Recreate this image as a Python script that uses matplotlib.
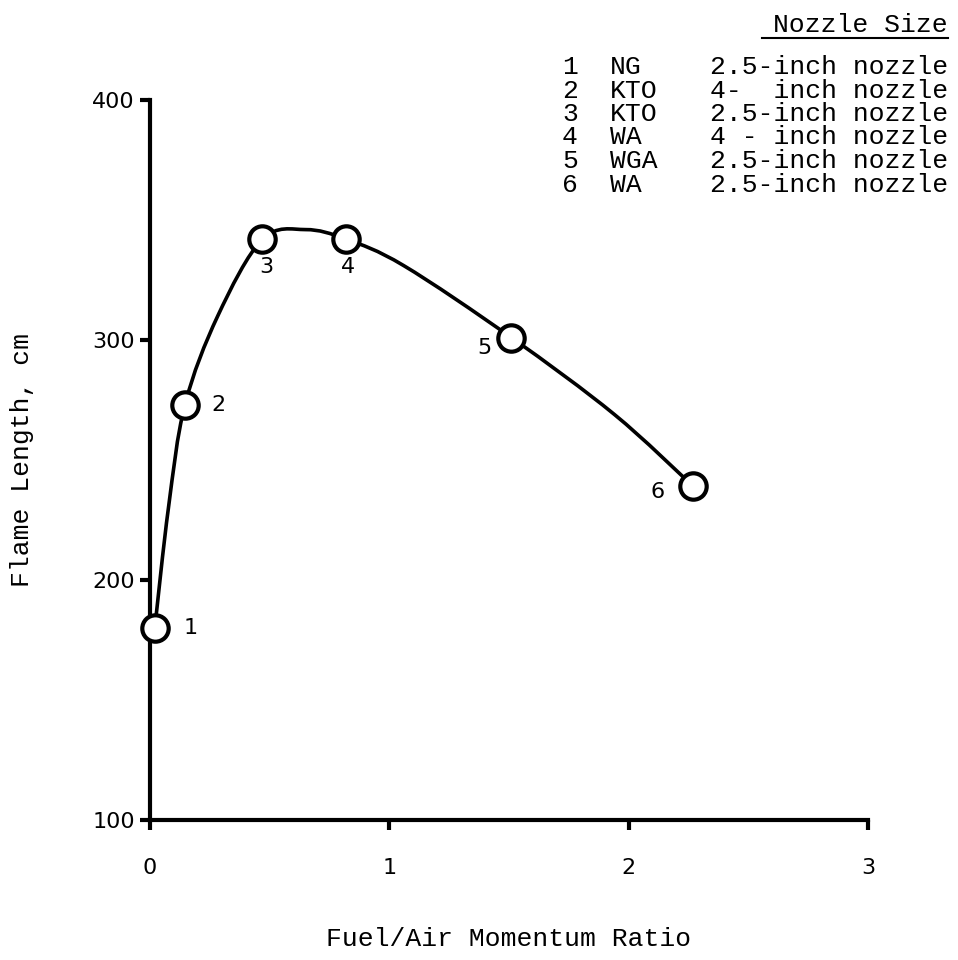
import numpy as np
import matplotlib.pyplot as plt
from matplotlib.path import Path
from matplotlib.patches import PathPatch

# measured points (Fuel/Air momentum ratio, flame length in cm)
point_ids = ["1", "2", "3", "4", "5", "6"]
ratio = [0.02, 0.146, 0.47, 0.82, 1.51, 2.27]
flame_len = [180, 273, 342, 342, 301, 239]

# hand drawn curve through the points
curve_x = [0.02, 0.077, 0.146, 0.283, 0.47, 0.65, 0.82, 1.06, 1.51, 1.94, 2.27]
curve_y = [180, 230, 273, 310, 342, 346, 342, 331, 301, 269, 239]

# key in the top right corner
fuels = ["NG", "KTO", "KTO", "WA", "WGA", "WA"]
nozzles = ["2.5-inch nozzle", "4-  inch nozzle", "2.5-inch nozzle",
           "4 - inch nozzle", "2.5-inch nozzle", "2.5-inch nozzle"]

x_ticks = [0, 1, 2, 3]
y_ticks = [100, 200, 300, 400]

mono = "Liberation Mono"
sans = "DejaVu Sans"

fig = plt.figure(figsize=(9.58, 9.6), dpi=100)
ax = fig.add_axes([150 / 958, 140 / 960, 718 / 958, 720 / 960])
ax.set_xlim(0, 3)
ax.set_ylim(100, 400)

# smooth curve: catmull-rom turned into bezier segments
pts = np.column_stack([curve_x, curve_y]).astype(float)
sx, sy = 239.0, 2.4  # roughly pixels per unit, so tangents look right
P = pts * [sx, sy]
verts = [P[0]]
codes = [Path.MOVETO]
for i in range(len(P) - 1):
    p0 = P[i - 1] if i > 0 else P[i]
    p1, p2 = P[i], P[i + 1]
    p3 = P[i + 2] if i + 2 < len(P) else P[i + 1]
    c1 = p1 + (p2 - p0) / 6
    c2 = p2 - (p3 - p1) / 6
    verts += [c1, c2, p2]
    codes += [Path.CURVE4] * 3
verts = np.array(verts) / [sx, sy]
ax.add_patch(PathPatch(Path(verts, codes), fill=False, lw=2.6,
                       edgecolor="black", capstyle="round", clip_on=False))

ax.plot(ratio, flame_len, "o", ms=19, mfc="white", mec="black", mew=3,
        clip_on=False, zorder=5)

# point numbers
offsets = [(36, 0), (33, 0), (4, -28), (2, -28), (-27, -10), (-36, -6)]
for pid, x, y, (dx, dy) in zip(point_ids, ratio, flame_len, offsets):
    ax.annotate(pid, (x, y), xytext=(dx, dy), textcoords="offset pixels",
                ha="center", va="center", fontsize=16, family=sans,
                annotation_clip=False)

for s in ["top", "right"]:
    ax.spines[s].set_visible(False)
for s in ["left", "bottom"]:
    ax.spines[s].set_linewidth(3)

ax.set_xticks(x_ticks)
ax.set_yticks(y_ticks)
ax.tick_params(direction="out", length=7, width=3, labelsize=16)
ax.tick_params(axis="y", pad=4)
ax.tick_params(axis="x", pad=20)
for lab in ax.get_xticklabels() + ax.get_yticklabels():
    lab.set_family(sans)

ax.set_xlabel("Fuel/Air Momentum Ratio", fontsize=19, family=mono, labelpad=36)
ax.set_ylabel("Flame Length, cm", fontsize=19, family=mono, labelpad=42)

# key
fig.text(948 / 958, 1 - 25 / 960, "Nozzle Size", fontsize=19, family=mono,
         ha="right", va="center")
fig.add_artist(plt.Line2D([762 / 958, 948 / 958], [1 - 38 / 960, 1 - 38 / 960],
                          color="black", lw=1.5))
for i, (pid, fu, nz) in enumerate(zip(point_ids, fuels, nozzles)):
    yy = 1 - (67 + 23.5 * i) / 960
    fig.text(570 / 958, yy, pid, fontsize=19, family=mono, ha="center", va="center")
    fig.text(610 / 958, yy, fu, fontsize=19, family=mono, ha="left", va="center")
    fig.text(948 / 958, yy, nz, fontsize=19, family=mono, ha="right", va="center")

fig.savefig("out.png", dpi=100, facecolor="white")
